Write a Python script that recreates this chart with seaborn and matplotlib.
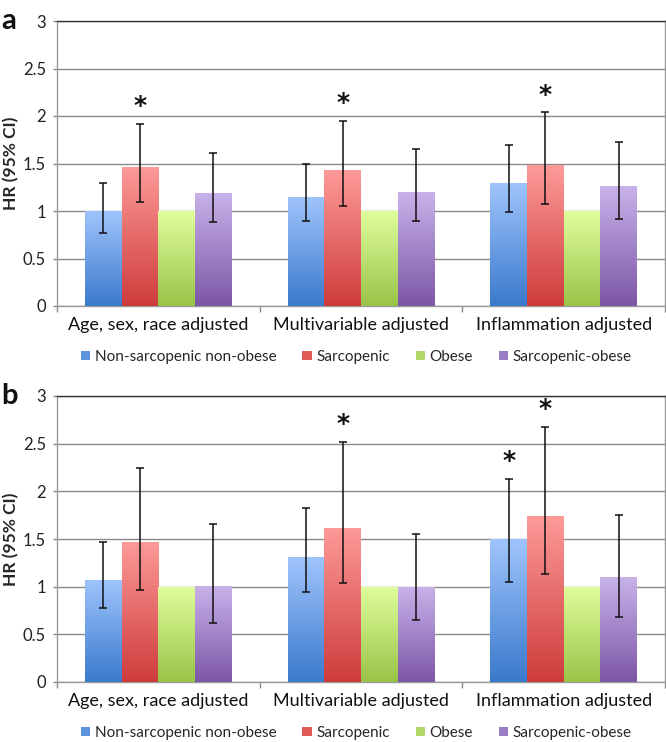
import numpy as np
import pandas as pd
import matplotlib
matplotlib.use("Agg")
import matplotlib.pyplot as plt
from matplotlib.colors import LinearSegmentedColormap
from matplotlib.patches import Patch
import seaborn as sns

sns.set_theme(style="white")
plt.rcParams['font.family'] = ['Lato', 'DejaVu Sans']

categories = ["Age, sex, race adjusted", "Multivariable adjusted", "Inflammation adjusted"]
groups = ["Non-sarcopenic non-obese", "Sarcopenic", "Obese", "Sarcopenic-obese"]

# Panel a: HR, lower CI, upper CI  (rows = groups, cols = categories)
a_hr = [[1.00, 1.15, 1.29], [1.46, 1.43, 1.48], [1.00, 1.00, 1.00], [1.19, 1.20, 1.26]]
a_lo = [[0.77, 0.89, 0.99], [1.10, 1.05, 1.07], [None, None, None], [0.88, 0.89, 0.92]]
a_hi = [[1.29, 1.49, 1.69], [1.92, 1.95, 2.04], [None, None, None], [1.61, 1.65, 1.73]]
a_star = [[0, 0, 0], [1, 1, 1], [0, 0, 0], [0, 0, 0]]

# Panel b
b_hr = [[1.07, 1.31, 1.50], [1.47, 1.62, 1.74], [1.00, 1.00, 1.00], [1.01, 1.00, 1.10]]
b_lo = [[0.78, 0.94, 1.05], [0.96, 1.04, 1.13], [None, None, None], [0.62, 0.65, 0.68]]
b_hi = [[1.47, 1.82, 2.13], [2.25, 2.52, 2.68], [None, None, None], [1.66, 1.55, 1.75]]
b_star = [[0, 0, 1], [0, 1, 1], [0, 0, 0], [0, 0, 0]]

yticks = [0, 0.5, 1, 1.5, 2, 2.5, 3]
ytick_labels = ["0", "0.5", "1", "1.5", "2", "2.5", "3"]

grad_top = ["#a0c4fc", "#fd9a98", "#e0fe9c", "#c9b2ea"]
grad_bot = ["#3a7acc", "#cd3c3b", "#99c448", "#7b56a6"]
legend_cols = ["#5b93dc", "#e15a58", "#b5d86a", "#9a7cc4"]

W, H = 666, 742
fig = plt.figure(figsize=(W / 100, H / 100), dpi=100)

def frac(x0, y_top, x1, y_bot):
    return [x0 / W, 1 - y_bot / H, (x1 - x0) / W, (y_bot - y_top) / H]

ax_a = fig.add_axes(frac(57, 21, 665, 306))
ax_b = fig.add_axes(frac(57, 396, 665, 682))


def draw_panel(ax, hr, lo, hi, star, label):
    rows = []
    for gi, g in enumerate(groups):
        for ci, c in enumerate(categories):
            rows.append({"cat": c, "grp": g, "hr": hr[gi][ci]})
    df = pd.DataFrame(rows)
    sns.barplot(data=df, x="cat", y="hr", hue="grp", order=categories,
                hue_order=groups, ax=ax, width=0.725, gap=0, errorbar=None,
                palette=legend_cols, legend=False, zorder=3)
    ax.set_ylim(0, 3)
    ax.set_xlim(-0.5, len(categories) - 0.5)
    containers = list(ax.containers)
    grad = np.linspace(0, 1, 256).reshape(-1, 1)
    for gi, cont in enumerate(containers):
        cmap = LinearSegmentedColormap.from_list("g", [grad_bot[gi], grad_top[gi]])
        for ci, bar in enumerate(cont):
            x0 = bar.get_x(); w = bar.get_width(); h = bar.get_height()
            bar.set_facecolor("none")
            bar.set_edgecolor("none")
            im = ax.imshow(grad, cmap=cmap, origin="lower", aspect="auto",
                           extent=[x0, x0 + w, 0, h], zorder=3, interpolation="bilinear")
            im.set_clip_path(bar)
            xc = x0 + w / 2
            if lo[gi][ci] is not None:
                ax.errorbar([xc], [h], yerr=[[h - lo[gi][ci]], [hi[gi][ci] - h]],
                            fmt="none", ecolor="#111111", elinewidth=1.1,
                            capsize=3.2, capthick=1.1, zorder=5)
            if star[gi][ci]:
                ax.text(xc, hi[gi][ci] + 0.06, "*", ha="center", va="bottom",
                        fontsize=18, fontweight="bold", color="#111111",
                        family=["DejaVu Sans"], zorder=6)
    ax.set_aspect("auto")
    ax.set_ylim(0, 3)
    ax.set_xlim(-0.5, len(categories) - 0.5)
    ax.set_yticks(yticks)
    ax.set_yticklabels(ytick_labels, fontsize=12, color="#222222")
    ax.yaxis.grid(True, color="#8a8a8a", linewidth=1.0, zorder=0)
    ax.set_axisbelow(True)
    ax.tick_params(axis="y", length=3, color="#8a8a8a", width=1, pad=5, left=True)
    ax.set_xticks(range(len(categories)))
    ax.set_xticklabels(categories, fontsize=13, color="#111111")
    ax.tick_params(axis="x", which="major", length=0, pad=8)
    ax.set_xticks([-0.5, 0.5, 1.5, 2.5], minor=True)
    ax.tick_params(axis="x", which="minor", length=4, color="#8a8a8a", width=1, bottom=True)
    for s in ["left", "bottom", "right"]:
        ax.spines[s].set_visible(True)
        ax.spines[s].set_color("#9a9a9a")
        ax.spines[s].set_linewidth(1.0)
    ax.spines["top"].set_visible(True)
    ax.spines["top"].set_color("#333333")
    ax.spines["top"].set_linewidth(1.0)
    ax.set_xlabel("")
    ax.set_ylabel("HR (95% CI)", fontsize=12.5, fontweight="bold")
    ax.yaxis.set_label_coords(-0.062, 0.5)
    ax.text(-0.092, 1.0, label, transform=ax.transAxes, fontsize=21,
            fontweight="bold", ha="left", va="center", color="#111111")


draw_panel(ax_a, a_hr, a_lo, a_hi, a_star, "a")
draw_panel(ax_b, b_hr, b_lo, b_hi, b_star, "b")

handles = [Patch(facecolor=c, edgecolor="none") for c in legend_cols]
for yc in [357, 733]:
    fig.legend(handles, groups, loc="center", bbox_to_anchor=(0.535, 1 - yc / H),
               ncol=4, frameon=False, fontsize=11, handlelength=0.6,
               handleheight=0.6, handletextpad=0.3, columnspacing=1.7)

fig.savefig("out.png", dpi=100)
